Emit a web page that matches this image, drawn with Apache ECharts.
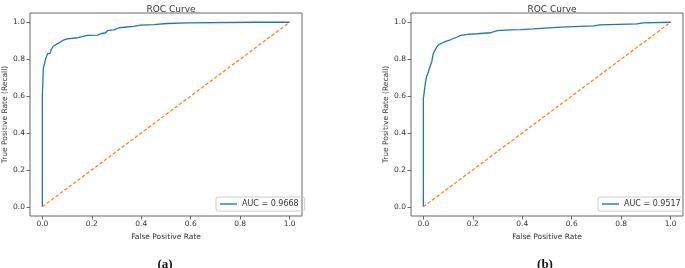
<!DOCTYPE html>
<html>
<head>
<meta charset="utf-8">
<script src="https://cdn.jsdelivr.net/npm/echarts@6/dist/echarts.min.js"></script>
<style>
html,body{margin:0;padding:0;background:#fff;}
#chart{width:685px;height:268px;}
</style>
</head>
<body>
<div id="chart"></div>
<script>
// ROC curve (a)
const fprA = [0, 0, 0.004, 0.004, 0.008, 0.012, 0.017, 0.021, 0.031, 0.035, 0.044, 0.062, 0.088, 0.102, 0.142, 0.182, 0.223, 0.236, 0.256, 0.263, 0.290, 0.310, 0.370, 0.397, 0.450, 0.504, 0.584, 0.866, 1.0];
const tprA = [0, 0.607, 0.607, 0.75, 0.76, 0.795, 0.80, 0.83, 0.83, 0.85, 0.87, 0.884, 0.905, 0.91, 0.916, 0.929, 0.93, 0.9375, 0.943, 0.955, 0.959, 0.97, 0.977, 0.984, 0.9875, 0.993, 0.996, 1.0, 1.0];
// ROC curve (b)
const fprB = [0, 0, 0.003, 0.007, 0.013, 0.020, 0.027, 0.034, 0.040, 0.046, 0.054, 0.063, 0.077, 0.090, 0.110, 0.137, 0.151, 0.177, 0.218, 0.272, 0.298, 0.352, 0.392, 0.446, 0.554, 0.688, 0.715, 0.863, 0.890, 1.0];
const tprB = [0, 0.589, 0.616, 0.66, 0.705, 0.73, 0.76, 0.786, 0.83, 0.84, 0.866, 0.88, 0.8875, 0.896, 0.905, 0.92, 0.929, 0.934, 0.9375, 0.943, 0.955, 0.959, 0.96, 0.964, 0.973, 0.98, 0.986, 0.991, 0.996, 1.0];
// chance diagonal
const diagX = [0, 1];
const diagY = [0, 1];
// labels
const aucLabels = ['AUC = 0.9668', 'AUC = 0.9517'];
const tickValues = [0, 0.2, 0.4, 0.6, 0.8, 1.0];
const titleText = 'ROC Curve';
const xName = 'False Positive Rate';
const yName = 'True Positive Rate (Recall)';
const captions = ['(a)', '(b)'];

const zip = (a, b) => a.map((v, i) => [v, b[i]]);
const FONT = 'DejaVu Sans';
const TXT = '#333';
const FRAME = '#666';
const grids = [
  {left: 30, top: 13, width: 272, height: 203},
  {left: 411, top: 13, width: 272, height: 203}
];

function mkAxis(i, isX) {
  return {
    type: 'value', gridIndex: i, min: -0.05, max: 1.05,
    name: isX ? xName : yName, nameLocation: 'middle', nameGap: isX ? 14 : 20,
    nameTextStyle: {fontFamily: FONT, fontSize: 7.5, color: TXT},
    axisLine: {show: false, onZero: false},
    splitLine: {show: false},
    axisTick: {show: true, length: 3.5, customValues: tickValues, lineStyle: {color: FRAME}},
    axisLabel: {customValues: tickValues, fontFamily: FONT, fontSize: 7.5, color: TXT,
      margin: isX ? 4 : 5, formatter: v => v.toFixed(1)}
  };
}

function mkLegend(i, left) {
  return {
    data: [{name: aucLabels[i], icon: 'rect'}], left: left, top: 197, orient: 'vertical',
    padding: [3, 6, 3, 4], itemWidth: 17, itemHeight: 1.4, itemGap: 4,
    borderColor: '#ccc', borderWidth: 1, borderRadius: 2,
    textStyle: {fontFamily: FONT, fontSize: 8, color: TXT}
  };
}

const chart = echarts.init(document.getElementById('chart'), null, {renderer: 'canvas'});
chart.setOption({
  animation: false,
  backgroundColor: '#fff',
  title: [
    {text: titleText, left: 166, top: 0, textAlign: 'center',
     textStyle: {fontFamily: FONT, fontSize: 9, fontWeight: 'normal', color: TXT}},
    {text: titleText, left: 547, top: 0, textAlign: 'center',
     textStyle: {fontFamily: FONT, fontSize: 9, fontWeight: 'normal', color: TXT}},
    {text: captions[0], left: 160, top: 253, textAlign: 'center',
     textStyle: {fontFamily: 'Liberation Serif', fontSize: 13, fontWeight: 'bold', color: '#111'}},
    {text: captions[1], left: 540, top: 253, textAlign: 'center',
     textStyle: {fontFamily: 'Liberation Serif', fontSize: 13, fontWeight: 'bold', color: '#111'}}
  ],
  grid: grids.map(g => Object.assign({show: true, borderColor: FRAME, borderWidth: 1, backgroundColor: 'transparent'}, g)),
  xAxis: [mkAxis(0, true), mkAxis(1, true)],
  yAxis: [mkAxis(0, false), mkAxis(1, false)],
  legend: [mkLegend(0, 216), mkLegend(1, 598)],
  series: [
    {name: aucLabels[0], type: 'line', xAxisIndex: 0, yAxisIndex: 0, data: zip(fprA, tprA),
     symbol: 'none', lineStyle: {color: '#1f77b4', width: 1.3}, itemStyle: {color: '#1f77b4'}},
    {name: 'chanceA', type: 'line', xAxisIndex: 0, yAxisIndex: 0, data: zip(diagX, diagY),
     symbol: 'none', lineStyle: {color: '#ff7f0e', width: 1.2, type: [3.5, 2]}, itemStyle: {color: '#ff7f0e'}},
    {name: aucLabels[1], type: 'line', xAxisIndex: 1, yAxisIndex: 1, data: zip(fprB, tprB),
     symbol: 'none', lineStyle: {color: '#1f77b4', width: 1.3}, itemStyle: {color: '#1f77b4'}},
    {name: 'chanceB', type: 'line', xAxisIndex: 1, yAxisIndex: 1, data: zip(diagX, diagY),
     symbol: 'none', lineStyle: {color: '#ff7f0e', width: 1.2, type: [3.5, 2]}, itemStyle: {color: '#ff7f0e'}}
  ]
});
</script>
</body>
</html>
